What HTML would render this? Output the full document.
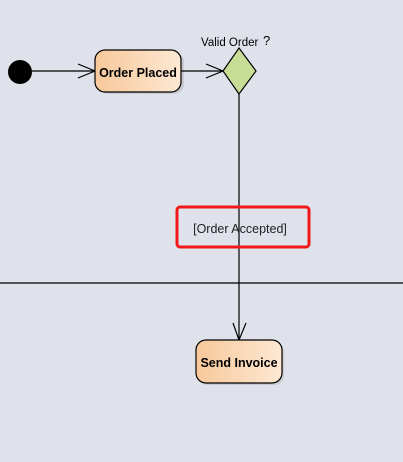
<!DOCTYPE html>
<html><head><style>
body{margin:0;width:403px;height:462px;background:#e0e2eb;overflow:hidden}
svg{display:block}
</style></head><body>
<svg width="403" height="462" xmlns="http://www.w3.org/2000/svg">
<defs>
<linearGradient id="g" x1="0" x2="1" y1="0" y2="0">
<stop offset="0" stop-color="#f7c89a"/><stop offset="1" stop-color="#fde8d4"/>
</linearGradient>
</defs>
<circle cx="20" cy="72" r="12" fill="#000"/>
<line x1="32" y1="71" x2="95" y2="71" stroke="#000" stroke-width="1.2"/>
<polyline points="78,64 95,71 78,78" fill="none" stroke="#000" stroke-width="1.2"/>
<rect x="96" y="50" width="86" height="42" rx="10" fill="#b0b0b8" opacity="0.5" transform="translate(2,2)"/>
<rect x="95" y="50" width="86" height="42" rx="10" fill="url(#g)" stroke="#000" stroke-width="1.2"/>
<text x="138" y="77" text-anchor="middle" font-family="Liberation Sans, sans-serif" font-weight="bold" font-size="12.5">Order Placed</text>
<line x1="181" y1="71" x2="223" y2="71" stroke="#000" stroke-width="1.2"/>
<polyline points="206,64 223,71 206,78" fill="none" stroke="#000" stroke-width="1.2"/>
<polygon points="239,48 256,71 239,94 223,71" fill="#c7dd96" stroke="#000" stroke-width="1.2"/>
<text x="201" y="46" font-family="Liberation Sans, sans-serif" font-size="11.5">Valid Order</text>
<text x="263" y="45" font-family="Liberation Sans, sans-serif" font-size="13">?</text>
<line x1="239" y1="94" x2="239" y2="340" stroke="#000" stroke-width="1.2"/>
<polyline points="233,323 239,340 246,323" fill="none" stroke="#000" stroke-width="1.2"/>
<line x1="0" y1="283" x2="403" y2="283" stroke="#000" stroke-width="1.3"/>
<rect x="177" y="207" width="132" height="40" rx="3" fill="none" stroke="#f01818" stroke-width="3"/>
<text x="240" y="233" text-anchor="middle" font-family="Liberation Sans, sans-serif" font-size="12.5" fill="#222">[Order Accepted]</text>
<rect x="196" y="340" width="86" height="43" rx="10" fill="#b0b0b8" opacity="0.5" transform="translate(2,2)"/>
<rect x="196" y="340" width="86" height="43" rx="10" fill="url(#g)" stroke="#000" stroke-width="1.2"/>
<text x="239" y="367" text-anchor="middle" font-family="Liberation Sans, sans-serif" font-weight="bold" font-size="12.5">Send Invoice</text>
</svg>
</body></html>
